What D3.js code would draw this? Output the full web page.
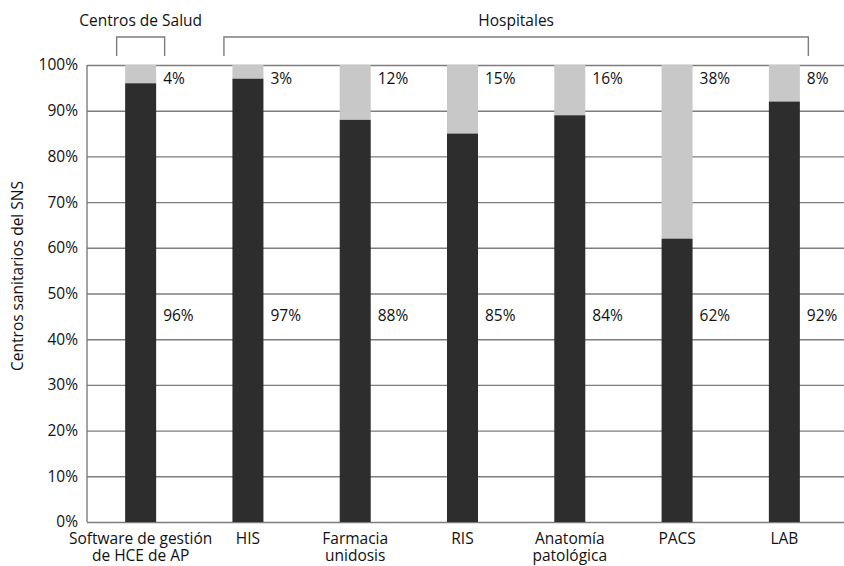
<!DOCTYPE html>
<html>
<head>
<meta charset="utf-8">
<script src="https://cdn.jsdelivr.net/npm/d3@7"></script>
<style>
  html, body { margin: 0; padding: 0; background: #fff; }
  svg { display: block; font-family: "Open Sans", "Noto Sans", sans-serif; }
</style>
</head>
<body>
<svg id="chart" width="844" height="566"></svg>
<script>
// ---- data ----
const categories = [
  ["Software de gestión", "de HCE de AP"],
  ["HIS"],
  ["Farmacia", "unidosis"],
  ["RIS"],
  ["Anatomía", "patológica"],
  ["PACS"],
  ["LAB"]
];
const darkValues = [96, 97, 88, 85, 89, 62, 92];
const darkLabels = ["96%", "97%", "88%", "85%", "84%", "62%", "92%"];
const lightLabels = ["4%", "3%", "12%", "15%", "16%", "38%", "8%"];
const yTicks = [0, 10, 20, 30, 40, 50, 60, 70, 80, 90, 100];
const groups = [
  { name: "Centros de Salud", from: 0, to: 0 },
  { name: "Hospitales", from: 1, to: 6 }
];
const yTitle = "Centros sanitarios del SNS";

(function () {
// ---- layout ----
const svg = d3.select("#chart");
const mLeft = 87, mRight = 844, mTop = 65, mBottom = 522;
const idx = d3.range(categories.length);
const x = d3.scalePoint().domain(idx).range([mLeft, 838]).padding(0.5);
const y = d3.scaleLinear().domain([0, 100]).range([mBottom, mTop]);
const barW = 31;
const darkCol = "#2d2d2d", lightCol = "#c8c8c8", gridCol = "#7d7d7d";
const fs = 15.5;

// gridlines + axis
const yAxis = d3.axisLeft(y)
  .tickValues(yTicks)
  .tickFormat(d => d + "%")
  .tickSize(-(mRight - mLeft))
  .tickPadding(9);
const ga = svg.append("g").attr("transform", `translate(${mLeft},0)`).call(yAxis);
ga.select(".domain").remove();
ga.selectAll(".tick line").attr("stroke", gridCol).attr("stroke-width", 1.4);
ga.selectAll(".tick text").attr("fill", "#111").style("font-size", fs + "px")
  .style("font-family", "'Open Sans', sans-serif");
svg.append("line").attr("x1", mLeft).attr("x2", mLeft).attr("y1", mTop).attr("y2", mBottom)
  .attr("stroke", gridCol).attr("stroke-width", 1.4);

// bars
const bars = svg.append("g");
bars.selectAll("rect.light").data(idx).join("rect")
  .attr("class", "light")
  .attr("x", i => x(i) - barW / 2).attr("width", barW)
  .attr("y", y(100)).attr("height", i => y(darkValues[i]) - y(100))
  .attr("fill", lightCol);
bars.selectAll("rect.dark").data(idx).join("rect")
  .attr("class", "dark")
  .attr("x", i => x(i) - barW / 2).attr("width", barW)
  .attr("y", i => y(darkValues[i])).attr("height", i => y(0) - y(darkValues[i]))
  .attr("fill", darkCol);

// value labels
const lab = svg.append("g").style("font-size", fs + "px").attr("fill", "#111");
lab.selectAll("text.top").data(idx).join("text")
  .attr("class", "top")
  .attr("x", i => x(i) + barW / 2 + 7).attr("y", y(97.1))
  .attr("dy", "0.35em").text(i => lightLabels[i]);
lab.selectAll("text.bot").data(idx).join("text")
  .attr("class", "bot")
  .attr("x", i => x(i) + barW / 2 + 7).attr("y", y(45.2))
  .attr("dy", "0.35em").text(i => darkLabels[i]);

// category labels (one text per line)
const cl = svg.append("g").style("font-size", fs + "px").attr("fill", "#111").attr("text-anchor", "middle");
idx.forEach(i => {
  categories[i].forEach((line, k) => {
    cl.append("text").attr("x", x(i)).attr("y", 544 + k * 17).text(line);
  });
});

// group brackets
const gb = svg.append("g");
groups.forEach(g => {
  const x0 = x(g.from) - 24, x1 = x(g.to) + 24;
  gb.append("path")
    .attr("d", `M${x0},56V37H${x1}V56`)
    .attr("fill", "none").attr("stroke", gridCol).attr("stroke-width", 1.4);
  gb.append("text").attr("x", (x0 + x1) / 2).attr("y", 26)
    .attr("text-anchor", "middle").style("font-size", fs + "px").attr("fill", "#111")
    .text(g.name);
});

// y title
svg.append("text")
  .attr("transform", `translate(23,276) rotate(-90)`)
  .attr("text-anchor", "middle").style("font-size", fs + "px").attr("fill", "#111")
  .text(yTitle);
})();
</script>
</body>
</html>
